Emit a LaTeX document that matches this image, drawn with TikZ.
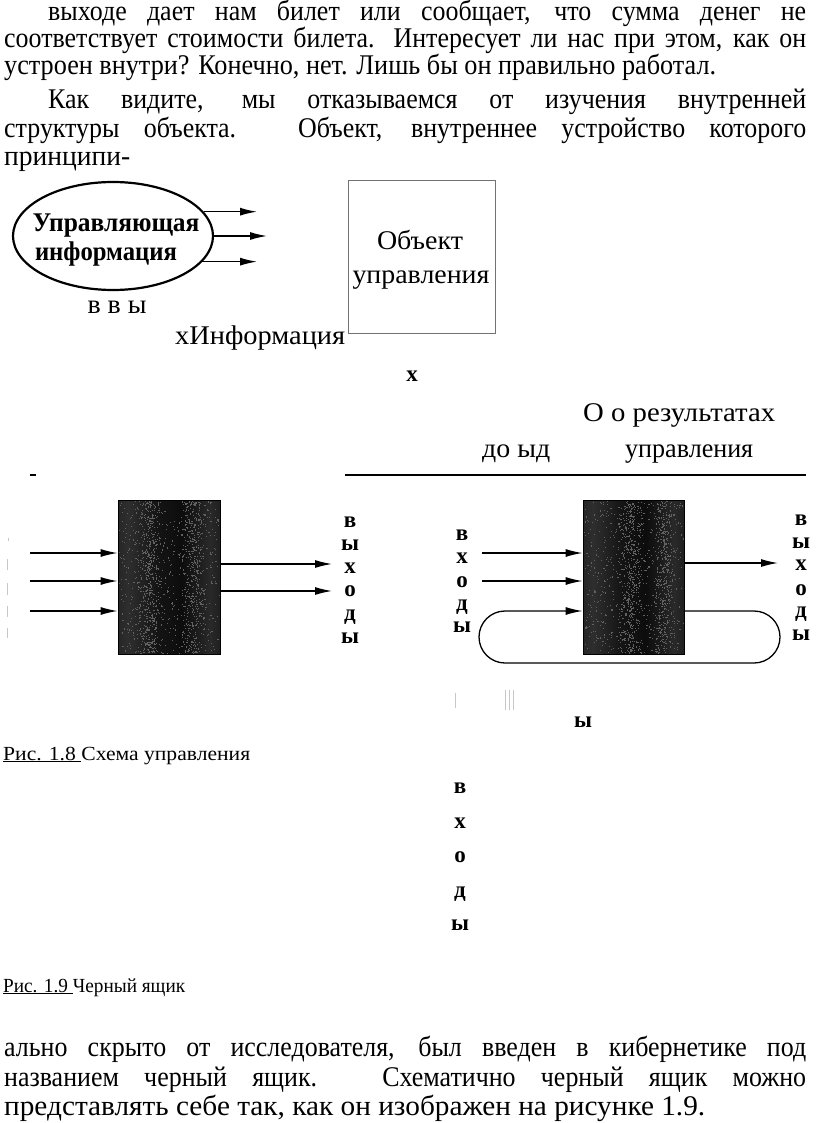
\documentclass[tikz,border=0pt]{standalone}
\usepackage{fontspec}
\setmainfont{Liberation Serif}
\newfontfamily\condfont[FakeStretch=0.91]{Liberation Serif}
\usepackage{graphicx}
\usetikzlibrary{shapes.geometric,arrows.meta}
\newcommand{\fitw}[2]{\resizebox{#1}{\height}{#2}}
\pgfdeclarehorizontalshading{boxtex}{100bp}{color(0bp)=(black!97); color(12bp)=(black!93); color(30bp)=(black!82); color(44bp)=(black!92); color(56bp)=(black!95); color(70bp)=(black!84); color(84bp)=(black!94); color(100bp)=(black!97)}
\begin{document}
\begin{tikzpicture}[x=1pt,y=-1pt,
  txt/.style={anchor=base west, inner sep=0pt, font=\condfont\fontsize{28.5}{28.5}\selectfont},
  lbl/.style={anchor=base, inner sep=0pt, font=\fontsize{27}{27}\selectfont},
  lblw/.style={anchor=base west, inner sep=0pt, font=\fontsize{27}{27}\selectfont},
  bl/.style={anchor=base, inner sep=0pt, font=\bfseries\fontsize{23}{23}\selectfont},
  captxt/.style={anchor=base west, inner sep=0pt, font=\fontsize{20}{20}\selectfont},
  arr/.style={line width=1.3pt, -{Latex[length=17pt,width=8pt]}},
  bbox/.style={draw=black, line width=0.8pt, shading=boxtex, minimum width=101pt, minimum height=154pt, inner sep=0pt},
  speck/.style={fill=black!62},
  faint/.style={draw=black!22, line width=0.8pt}
]
\useasboundingbox (0,0) rectangle (816,1123);
\pgfmathsetseed{4242}

% top paragraph
\node[txt] (p1) at (48,21) {\makebox[758pt][s]{выходе дает нам билет или сообщает, что сумма денег не}};
\node[txt] (p2) at (4,48) {\makebox[802pt][s]{соответствует стоимости билета. Интересует ли нас при этом, как он}};
\node[txt] (p3) at (4,75) {\fitw{712pt}{устроен внутри? Конечно, нет. Лишь бы он правильно работал.}};
\node[txt] (p4) at (48,109) {\makebox[758pt][s]{Как видите, мы отказываемся от изучения внутренней}};
\node[txt] (p5) at (4,138) {\makebox[802pt][s]{структуры объекта. Объект, внутреннее устройство которого}};
\node[txt] (p6) at (4,166) {\fitw{126pt}{принципи-}};

% figure 1.8
\node[draw, ellipse, line width=2.2pt, minimum width=200pt, minimum height=108pt, inner sep=0pt] (ctl) at (113,236) {};
\node[anchor=base, inner sep=0pt, text depth=2pt, font=\bfseries\fontsize{27}{27}\selectfont] (ctlt1) at (116,232) {\fitw{167pt}{Управляющая}};
\node[anchor=base, inner sep=0pt, text height=14pt, font=\bfseries\fontsize{27}{27}\selectfont] (ctlt2) at (106,260) {\fitw{142pt}{информация}};
\coordinate (a1) at (257,210);
\coordinate (a2) at (267,238);
\coordinate (a3) at (257,264);
\draw[arr] (ctl.15.5) -- (ctl.15.5 -| a1);
\draw[arr] (ctl.east) -- (ctl.east -| a2);
\draw[arr] (ctl.-16.5) -- (ctl.-16.5 -| a3);
\node[lbl] (vvy) at (117,313) {\fitw{59pt}{в в ы}};

\node[draw=black!55, line width=0.8pt, minimum width=147pt, minimum height=153pt, inner sep=0pt] (obj) at (421.5,256.5) {};
\node[lbl] (objt1) at (420,249) {\fitw{86pt}{Объект}};
\node[lbl] (objt2) at (421,283) {\fitw{137pt}{управления}};

\node[lblw] (xinf) at (175,344) {\fitw{170pt}{хИнформация}};
\node[anchor=base, inner sep=0pt, font=\bfseries\fontsize{23}{23}\selectfont] (xx) at (412,381) {х};
\node[lblw] (ores) at (583,421) {\fitw{192pt}{О о результатах}};
\node[lblw] (doyd) at (482,457) {\fitw{68pt}{до ыд}};
\node[lblw] (upr) at (625,457) {\fitw{128pt}{управления}};

\coordinate (r1) at (345,475);
\coordinate (r2) at (806,475);
\draw[line width=1.4pt] (r1) -- (r2);
\coordinate (d1) at (30,475);
\coordinate (d2) at (36,475);
\draw[line width=1.4pt] (d1) -- (d2);

% black box 1
\node[bbox, minimum width=102pt] (bb1) at (169,577) {};
\begin{scope}
\clip (bb1.south west) rectangle (bb1.north east);
\foreach \k in {1,...,500} {\fill[speck] ({119+100*rnd},{501+152*rnd}) rectangle ++(1.1,1.1);}
\foreach \k in {1,...,450} {\fill[speck] ({150+14*(rnd+rnd-1)},{501+152*rnd}) rectangle ++(1.1,1.1);}
\foreach \k in {1,...,400} {\fill[speck] ({193+13*(rnd+rnd-1)},{501+152*rnd}) rectangle ++(1.1,1.1);}
\end{scope}
\coordinate (i11) at (30,553);
\coordinate (i12) at (30,581);
\coordinate (i13) at (30,611);
\draw[arr] (i11) -- (i11 -| bb1.west);
\draw[arr] (i12) -- (i12 -| bb1.west);
\draw[arr] (i13) -- (i13 -| bb1.west);
\coordinate (o11) at (332,564);
\coordinate (o12) at (332,591);
\draw[arr] (o11 -| bb1.east) -- (o11);
\draw[arr] (o12 -| bb1.east) -- (o12);
\node[bl] (c1a) at (350,527) {в};
\node[bl] (c1b) at (350,550) {ы};
\node[bl] (c1c) at (350,573) {х};
\node[bl] (c1d) at (350,596) {о};
\node[bl] (c1e) at (350,620) {д};
\node[bl] (c1f) at (350,643) {ы};
% faint scan marks
\draw[faint] (8,538) -- (8,541);
\draw[faint] (7,559) -- (7,570);
\draw[faint] (7,583) -- (7,595);
\draw[faint] (7,606) -- (7,617);
\draw[faint] (7,628) -- (7,638);

% black box 2
\node[bbox] (bb2) at (633.5,577) {};
\begin{scope}
\clip (bb2.south west) rectangle (bb2.north east);
\foreach \k in {1,...,500} {\fill[speck] ({584+99*rnd},{501+152*rnd}) rectangle ++(1.1,1.1);}
\foreach \k in {1,...,450} {\fill[speck] ({630+13*(rnd+rnd-1)},{501+152*rnd}) rectangle ++(1.1,1.1);}
\foreach \k in {1,...,400} {\fill[speck] ({664+12*(rnd+rnd-1)},{501+152*rnd}) rectangle ++(1.1,1.1);}
\end{scope}
\coordinate (i21) at (482,553);
\coordinate (i22) at (482,581);
\draw[arr] (i21) -- (i21 -| bb2.west);
\draw[arr] (i22) -- (i22 -| bb2.west);
\coordinate (o21) at (778,563);
\draw[arr] (o21 -| bb2.east) -- (o21);
\coordinate (l0) at (700,611);
\coordinate (l1) at (780,611);
\coordinate (l2) at (780,663);
\coordinate (l3) at (479,663);
\coordinate (l4) at (479,611);
\draw[arr, rounded corners=26pt] (l0 -| bb2.east) -- (l1) -- (l2) -- (l3) -- (l4) -- (l4 -| bb2.west);
\node[bl] (c2a) at (462,540) {в};
\node[bl] (c2b) at (462,563) {х};
\node[bl] (c2c) at (462,587) {о};
\node[bl] (c2d) at (462,610) {д};
\node[bl] (c2e) at (462,632) {ы};
\node[bl] (c3a) at (801,525) {в};
\node[bl] (c3b) at (801,548) {ы};
\node[bl] (c3c) at (801,570) {х};
\node[bl] (c3d) at (801,595) {о};
\node[bl] (c3e) at (801,617) {д};
\node[bl] (c3f) at (801,640) {ы};
\draw[faint] (455,693) -- (455,708);
\draw[faint] (505,690) -- (505,710);
\draw[faint] (509,690) -- (509,710);
\draw[faint] (513,690) -- (513,710);
\node[bl] (yy) at (583,727) {ы};

\node[captxt] (cap1) at (3,760) {\fitw{247pt}{\underline{Рис. 1.8\ }Схема управления}};

\node[bl] (c4a) at (460,793) {в};
\node[bl] (c4b) at (460,828) {х};
\node[bl] (c4c) at (460,862) {о};
\node[bl] (c4d) at (460,897) {д};
\node[bl] (c4e) at (460,930) {ы};

\node[captxt] (cap2) at (3,992) {\fitw{182pt}{\underline{Рис. 1.9\ }Черный ящик}};

% bottom paragraph
\node[txt] (q1) at (4,1056) {\makebox[802pt][s]{ально скрыто от исследователя, был введен в кибернетике под}};
\node[txt] (q2) at (4,1086) {\makebox[802pt][s]{названием черный ящик. Схематично черный ящик можно}};
\node[txt] (q3) at (4,1115) {\fitw{701pt}{представлять себе так, как он изображен на рисунке 1.9.}};
\end{tikzpicture}
\end{document}
